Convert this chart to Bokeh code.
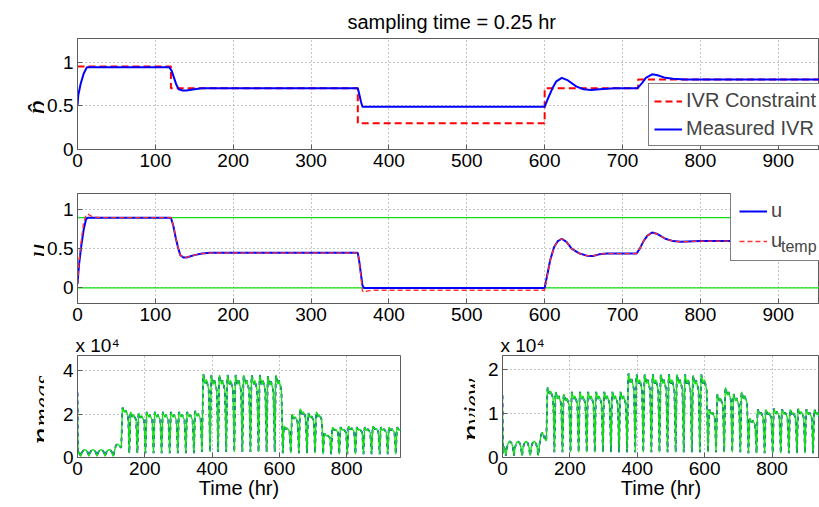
from bokeh.plotting import figure
from bokeh.models import Range1d, FixedTicker, Label, Legend, LegendItem, Span
from bokeh.layouts import column, row
from bokeh.embed import file_html
from bokeh.resources import INLINE

SANS = "Liberation Sans"
SERIF = "Liberation Serif"
FRAME = "#5c5c5c"
GRID = "#8c8c8c"
RED = "#ff0000"
BLUE = "#0000ff"
GREEN = "#10e010"

# ---------------- data ----------------
ivr_t = [0, 120, 360, 600, 720, 960]
ivr_constraint = [0.95, 0.70, 0.30, 0.70, 0.80, 0.80]

meas_t = [0, 1, 4, 8, 12, 20, 118, 121, 124, 127, 130, 135, 140, 150, 160, 170,
          360, 362, 364, 366, 370, 600, 605, 610, 615, 622, 630, 641, 650, 660, 670, 690,
          719, 725, 730, 738, 745, 755, 765, 780, 960]
meas_ivr = [0.50, 0.62, 0.75, 0.87, 0.94, 0.94, 0.94, 0.90, 0.82, 0.74, 0.69, 0.675, 0.675, 0.69, 0.70, 0.70,
            0.70, 0.63, 0.55, 0.49, 0.49, 0.49, 0.60, 0.70, 0.78, 0.82, 0.79, 0.72, 0.69, 0.68, 0.69, 0.70,
            0.70, 0.76, 0.82, 0.86, 0.85, 0.82, 0.81, 0.80, 0.80]

u_t = [0, 2, 5, 8, 11, 13, 16, 20, 30,
       120, 123, 126, 129, 132, 136, 140, 150, 160, 170,
       360, 362, 364, 366, 368, 372, 380,
       600, 603, 607, 612, 617, 622, 628, 635, 645, 655, 662, 670, 680,
       718, 722, 727, 732, 738, 745, 755, 765, 775, 800, 850, 960]
u_vals = [0.05, 0.30, 0.55, 0.75, 0.88, 0.90, 0.90, 0.90, 0.90,
          0.90, 0.80, 0.65, 0.52, 0.42, 0.39, 0.39, 0.42, 0.44, 0.45,
          0.45, 0.33, 0.18, 0.03, 0.0, 0.0, 0.0,
          0.0, 0.15, 0.35, 0.52, 0.60, 0.63, 0.59, 0.50, 0.44, 0.41, 0.41, 0.43, 0.44,
          0.44, 0.50, 0.60, 0.67, 0.71, 0.69, 0.63, 0.60, 0.59, 0.60, 0.60, 0.60]
utemp_vals = [0.05, 0.35, 0.62, 0.85, 0.93, 0.95, 0.93, 0.91, 0.90,
              0.90, 0.80, 0.65, 0.52, 0.42, 0.39, 0.39, 0.42, 0.44, 0.45,
              0.45, 0.33, 0.15, -0.04, -0.06, -0.04, -0.03,
              -0.03, 0.13, 0.35, 0.52, 0.60, 0.63, 0.59, 0.50, 0.44, 0.41, 0.41, 0.43, 0.44,
              0.44, 0.50, 0.60, 0.67, 0.71, 0.69, 0.63, 0.60, 0.59, 0.60, 0.60, 0.60]
u_limits = [0.0, 0.9]

# n_meas / n_view (x 10^4): first 126 hours read point by point
early_t = [0, 1, 2, 5, 10, 13, 17, 22, 27, 31, 34, 37, 41, 46, 51, 55, 58, 61, 65, 70, 75, 79,
           82, 85, 89, 94, 99, 103, 106, 110, 114, 118, 122, 126]
early_meas = [3.0, 1.0, 0.15, 0.25, 0.05, 0.22, 0.32, 0.36, 0.32, 0.22, 0.05, 0.22, 0.32, 0.36, 0.32, 0.22,
              0.05, 0.22, 0.32, 0.36, 0.32, 0.22, 0.05, 0.22, 0.32, 0.36, 0.32, 0.22, 0.05, 0.30, 0.55, 0.62,
              0.58, 0.50]
early_view = [1.42, 0.50, 0.10, 0.25, 0.04, 0.22, 0.33, 0.37, 0.33, 0.22, 0.04, 0.22, 0.33, 0.37, 0.33, 0.22,
              0.04, 0.22, 0.33, 0.37, 0.33, 0.22, 0.04, 0.22, 0.33, 0.37, 0.33, 0.22, 0.04, 0.30, 0.50, 0.58,
              0.50, 0.42]

# daily cycles after t = 130 h: hour offsets after each trough and the read profile (0 = trough, 1 = peak)
cycle_first_trough = 130
cycle_period = 24
cycle_offset = [0, 2, 3, 4, 7, 10, 13, 17, 20, 22]
cycle_profile = [0.0, 0.55, 0.92, 1.0, 0.93, 0.88, 0.93, 0.86, 0.80, 0.45]

meas_peak = [2.30, 2.10, 2.05, 2.10, 2.10, 2.10, 2.10, 2.10, 2.10, 2.15,
             3.85, 3.80, 3.80, 3.80, 3.80, 3.80, 3.80, 3.80, 3.75, 3.80,
             1.45, 2.00, 2.25, 2.05, 2.10,
             1.10, 1.40, 1.40, 1.45, 1.40, 1.40, 1.45, 1.40, 1.40, 1.40]
meas_trough = [0.45, 0.20, 0.20, 0.20, 0.20, 0.20, 0.20, 0.20, 0.20, 0.20,
               0.25, 0.25, 0.25, 0.25, 0.25, 0.25, 0.25, 0.25, 0.25, 0.25,
               0.20, 0.20, 0.20, 0.20, 0.20,
               0.15, 0.15, 0.15, 0.15, 0.15, 0.15, 0.15, 0.15, 0.15, 0.15]
view_peak = [1.60, 1.50, 1.45, 1.50, 1.50, 1.50, 1.50, 1.50, 1.50, 1.50,
             1.92, 1.90, 1.90, 1.90, 1.90, 1.90, 1.90, 1.90, 1.88, 1.90,
             1.10, 1.45, 1.60, 1.45, 1.50,
             0.90, 1.10, 1.10, 1.12, 1.10, 1.10, 1.12, 1.10, 1.10, 1.10]
view_trough = [0.38, 0.12, 0.12, 0.12, 0.12, 0.12, 0.12, 0.12, 0.12, 0.12,
               0.12, 0.12, 0.12, 0.12, 0.12, 0.12, 0.12, 0.12, 0.12, 0.12,
               0.12, 0.12, 0.12, 0.12, 0.12,
               0.10, 0.10, 0.10, 0.10, 0.10, 0.10, 0.10, 0.10, 0.10, 0.10]

x_ticks_top = [0, 100, 200, 300, 400, 500, 600, 700, 800, 900]
x_ticks_bottom = [0, 200, 400, 600, 800]


def build_series(t0, v0, peaks, troughs):
    t, v = list(t0), list(v0)
    for k, (hi, lo) in enumerate(zip(peaks, troughs)):
        start = cycle_first_trough + cycle_period * k
        for off, f in zip(cycle_offset, cycle_profile):
            t.append(start + off)
            v.append(lo + (hi - lo) * f)
    return t, v


n_t, n_meas = build_series(early_t, early_meas, meas_peak, meas_trough)
v_t, n_view = build_series(early_t, early_view, view_peak, view_trough)


# ---------------- helpers ----------------
def make_fig(x_end, y0, y1, fw, fh, left, right, top, bottom, xt, yt, ylab=None):
    p = figure(output_backend="svg", toolbar_location=None,
               frame_width=fw, frame_height=fh,
               x_range=Range1d(0, x_end), y_range=Range1d(y0, y1),
               min_border_left=left, min_border_right=right,
               min_border_top=top, min_border_bottom=bottom)
    p.outline_line_color = FRAME
    p.outline_line_width = 1
    p.background_fill_color = "white"
    p.border_fill_color = "white"
    for ax, ticks in ((p.xaxis[0], xt), (p.yaxis[0], yt)):
        ax.ticker = FixedTicker(ticks=ticks)
        ax.axis_line_color = FRAME
        ax.major_tick_line_color = FRAME
        ax.major_tick_in = 5
        ax.major_tick_out = 0
        ax.minor_tick_line_color = None
        ax.major_label_text_font = SANS
        ax.major_label_text_font_size = "19px"
        ax.major_label_text_color = "black"
        ax.major_label_standoff = 4
    if ylab:
        p.yaxis[0].major_label_overrides = ylab
    p.xgrid.ticker = FixedTicker(ticks=xt)
    p.ygrid.ticker = FixedTicker(ticks=yt)
    p.grid.grid_line_color = GRID
    p.grid.grid_line_dash = "1 3"
    p.grid.grid_line_width = 1
    p.title.text_font = SANS
    p.title.text_font_style = "normal"
    p.title.text_color = "black"
    return p


def label_strip(w, fh, top, bottom):
    # narrow text-only figure with the same frame height and borders as the plot next to it
    # (y measured in pixels up from that frame's bottom edge)
    s = figure(output_backend="svg", toolbar_location=None, title_location=None,
               frame_width=w, frame_height=fh, min_border_left=0, min_border_right=0,
               min_border_top=top, min_border_bottom=bottom,
               x_range=Range1d(0, w), y_range=Range1d(0, fh),
               x_axis_type=None, y_axis_type=None)
    s.outline_line_color = None
    s.background_fill_color = "white"
    s.border_fill_color = "white"
    return s


def vtext(p, x, y, s, size):
    p.add_layout(Label(x=x, y=y, text=s, text_font=SERIF, text_font_size=size,
                       text_font_style="italic", angle=1.5707963, text_align="left",
                       text_baseline="alphabetic", text_color="black"))


def legend_box(items, loc, pad, spacing, label_width):
    return Legend(items=items, location=loc, orientation="vertical", padding=pad,
                  spacing=spacing, margin=0, glyph_width=28, glyph_height=20,
                  label_height=20, label_width=label_width, label_standoff=4,
                  label_text_font=SANS, label_text_font_size="20px",
                  border_line_color="black", border_line_width=1,
                  background_fill_color="white", background_fill_alpha=1.0)


# ---------------- top: p-hat ----------------
p1 = make_fig(953, 0, 1.27, 742, 111, 33, 0, 38, 30, x_ticks_top, [0, 0.5, 1],
              {0: "0", 0.5: "0.5", 1: "1"})
p1.title.text = "sampling time = 0.25 hr"
p1.title.align = "left"
p1.title.offset = 270
p1.title.text_font_size = "20px"
p1.title.standoff = 12
r_con = p1.step(ivr_t, ivr_constraint, mode="after", line_color=RED, line_width=2, line_dash="7 4")
r_meas = p1.line(meas_t, meas_ivr, line_color=BLUE, line_width=2)
p1.add_layout(legend_box([LegendItem(label="IVR Constraint", renderers=[r_con]),
                          LegendItem(label="Measured IVR", renderers=[r_meas])],
                         (571, 3), 5, 5, 170))
s1 = label_strip(44, 111, 38, 30)
vtext(s1, 36, 35, "p\u0302", "28px")

# ---------------- middle: u ----------------
p2 = make_fig(953, -0.2, 1.21, 742, 110, 33, 0, 14, 29, x_ticks_top, [0, 0.5, 1],
              {0: "0", 0.5: "0.5", 1: "1"})
for lim in u_limits:
    p2.add_layout(Span(location=lim, dimension="width", line_color=GREEN, line_width=1.3, level="underlay"))
r_u = p2.line(u_t, u_vals, line_color=BLUE, line_width=2)
r_ut = p2.line(u_t, utemp_vals, line_color="#ff3030", line_width=1.3, line_dash="5 3")
p2.add_layout(legend_box([LegendItem(label="u", renderers=[r_u]),
                          LegendItem(label="u", renderers=[r_ut])],
                         (653, 42), 8, 7, 70))
# subscript of the second legend entry (a borderless legend drawn on top)
p2.add_layout(Legend(items=[LegendItem(label="temp", renderers=[r_ut])], location=(704, 47),
                     orientation="vertical", padding=0, spacing=0, margin=0,
                     glyph_width=0, glyph_height=16, label_height=16, label_width=10,
                     label_standoff=0, label_text_font=SANS, label_text_font_size="16px",
                     border_line_color=None, background_fill_alpha=0.0))
s2 = label_strip(44, 110, 14, 29)
vtext(s2, 37, 46, "u", "28px")

# ---------------- bottom left: n_meas ----------------
p3 = make_fig(960, 0, 4.7, 323, 102, 33, 31, 23, 48, x_ticks_bottom, [0, 2, 4])
p3.line(n_t, n_meas, line_color=BLUE, line_width=1.8, line_dash="4 4")
p3.line(n_t, n_meas, line_color=GREEN, line_width=1.3)
s3 = label_strip(44, 102, 23, 48)
vtext(s3, 41, 13, "n", "34px")
vtext(s3, 42, 31, "meas", "25px")

# ---------------- bottom right: n_view ----------------
p4 = make_fig(941, 0, 2.33, 317, 102, 27, 0, 23, 48, x_ticks_bottom, [0, 1, 2])
p4.line(v_t, n_view, line_color=BLUE, line_width=1.8, line_dash="4 4")
p4.line(v_t, n_view, line_color=GREEN, line_width=1.3)
s4 = label_strip(44, 102, 23, 48)
vtext(s4, 40, 16, "n", "34px")
vtext(s4, 41, 33, "view", "25px")

for p in (p3, p4):
    p.title.text = "x 10\u2074"
    p.title.align = "left"
    p.title.offset = -2
    p.title.text_font_size = "19px"
    p.title.standoff = 0
    ax = p.xaxis[0]
    ax.axis_label = "Time (hr)"
    ax.axis_label_text_font = SANS
    ax.axis_label_text_font_style = "normal"
    ax.axis_label_text_font_size = "20px"
    ax.axis_label_text_color = "black"
    ax.axis_label_standoff = -1

layout = column(row(s1, p1, spacing=0), row(s2, p2, spacing=0),
                row(s3, p3, s4, p4, spacing=0), spacing=0)
open("out.html", "w").write(file_html(layout, INLINE))
